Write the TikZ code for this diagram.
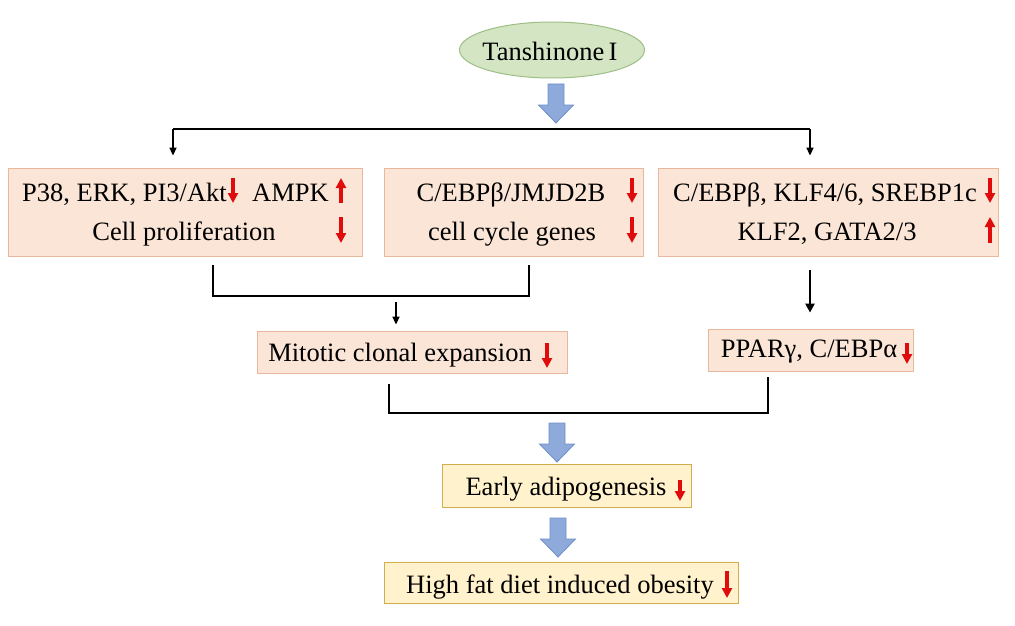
\documentclass[tikz,border=0pt]{standalone}
\usepackage{fontspec}
\setmainfont{Liberation Serif}
\usetikzlibrary{arrows.meta,shapes.geometric}
\definecolor{peach}{HTML}{FBE5D6}
\definecolor{peachline}{HTML}{E9B79B}
\definecolor{cream}{HTML}{FFF2CC}
\definecolor{creamline}{HTML}{D2AE4A}
\definecolor{leaf}{HTML}{D3E5C3}
\definecolor{leafline}{HTML}{9FBE86}
\definecolor{bluearrow}{HTML}{8EAADB}
\definecolor{bluearrowline}{HTML}{6E8FC8}
\definecolor{downred}{HTML}{E00C0C}
\begin{document}
\begin{tikzpicture}[x=1pt,y=-1pt,
  txt/.style={font=\fontsize{26.5}{30}\selectfont, inner sep=0pt, anchor=base},
  pbox/.style={draw=peachline, fill=peach, line width=0.8pt, inner sep=0pt},
  ybox/.style={draw=creamline, fill=cream, line width=1pt, inner sep=0pt},
  conn/.style={line width=1.6pt, -{Triangle[width=7pt,length=8pt]}},
  thickconn/.style={line width=2.6pt, -{Triangle[width=9pt,length=9pt]}},
  plainline/.style={line width=1.4pt},
  redarr/.style={draw=downred, line width=3.2pt, -{Triangle[width=10pt,length=10pt]}},
  barrow/.pic={\draw[fill=bluearrow, draw=bluearrowline, line width=0.8pt]
     (-8,0) -- (8,0) -- (8,21) -- (17.5,21) -- (0,39) -- (-17.5,21) -- (-8,21) -- cycle;}
]
\useasboundingbox (0,0) rectangle (1015,626);

% top ellipse
\node[ellipse, draw=leafline, fill=leaf, line width=1pt, minimum width=185pt, minimum height=56pt] (tan) at (552,50) {};
\node[txt] (tant) at (550,60) {Tanshinone\,I};

\pic at (556,84) {barrow};

% split
\coordinate (sl) at (173,129);
\coordinate (sr) at (810,129);
\draw[line width=1.8pt] (sl) -- (sr);

% top boxes
\node[pbox, minimum width=354pt, minimum height=88pt] (b1) at (185,212) {};
\node[pbox, minimum width=259pt, minimum height=88pt] (b2) at (513.5,212) {};
\node[pbox, minimum width=340pt, minimum height=88pt] (b3) at (828,212) {};

\draw[conn, shorten >=12pt] (sl) -- (sl |- b1.north);
\draw[conn, shorten >=12pt] (sr) -- (sr |- b3.north);

% box1 text
\node[txt, anchor=base east] (b1a) at (227,201) {P38, ERK, PI3/Akt};
\node[txt, anchor=base west] (b1b) at (252,201) {AMPK};
\node[txt] (b1c) at (184,240) {Cell proliferation};
\draw[redarr] (233,178) -- (233,203);
\draw[redarr] (341,203) -- (341,178);
\draw[redarr] (341,217) -- (341,243);

% box2 text
\node[txt] (b2a) at (511,201) {C/EBPβ/JMJD2B};
\node[txt] (b2b) at (512,240) {cell cycle genes};
\draw[redarr] (632,178) -- (632,203);
\draw[redarr] (632,217) -- (632,243);

% box3 text
\node[txt] (b3a) at (825,201) {C/EBPβ, KLF4/6, SREBP1c};
\node[txt] (b3b) at (827,240) {KLF2, GATA2/3};
\draw[redarr] (990,178) -- (990,203);
\draw[redarr] (990,243) -- (990,217);

% bracket 1
\coordinate (k1) at (213,265);
\coordinate (k2) at (529,265);
\coordinate (k3) at (396,296);
\coordinate (k4) at (396,302);
\draw[plainline] (k1) -- (k1 |- k3) -- (k2 |- k3) -- (k2);

% mitotic box
\node[pbox, minimum width=310pt, minimum height=42pt] (mce) at (412,352) {};
\node[txt] (mcet) at (400,361) {Mitotic clonal expansion};
\draw[redarr] (547,343) -- (547,368);
\draw[conn, shorten >=6pt] (k4) -- (k4 |- mce.north);

% right arrow and PPAR box
\node[pbox, minimum width=205pt, minimum height=42pt] (ppar) at (810.5,350) {};
\node[txt] (ppart) at (809,357) {PPARγ, C/EBPα};
\draw[redarr] (907,343) -- (907,364);
\coordinate (r1) at (810,270);
\draw[thickconn, shorten >=16pt] (r1) -- (r1 |- ppar.north);

% bracket 2
\coordinate (m1) at (389,384);
\coordinate (m2) at (768,377);
\coordinate (m3) at (557,413);
\draw[plainline] (m1) -- (m1 |- m3) -- (m2 |- m3) -- (m2);

\pic at (557,423) {barrow};

% early adipogenesis
\node[ybox, minimum width=249pt, minimum height=43pt] (early) at (566.5,485.5) {};
\node[txt] (earlyt) at (566,495) {Early adipogenesis};
\draw[redarr] (680,480) -- (680,501);

\pic at (558,518) {barrow};

% obesity
\node[ybox, minimum width=354pt, minimum height=41pt] (obes) at (561,582.5) {};
\node[txt] (obest) at (560,593) {High fat diet induced obesity};
\draw[redarr] (727,571) -- (727,598);
\end{tikzpicture}
\end{document}
